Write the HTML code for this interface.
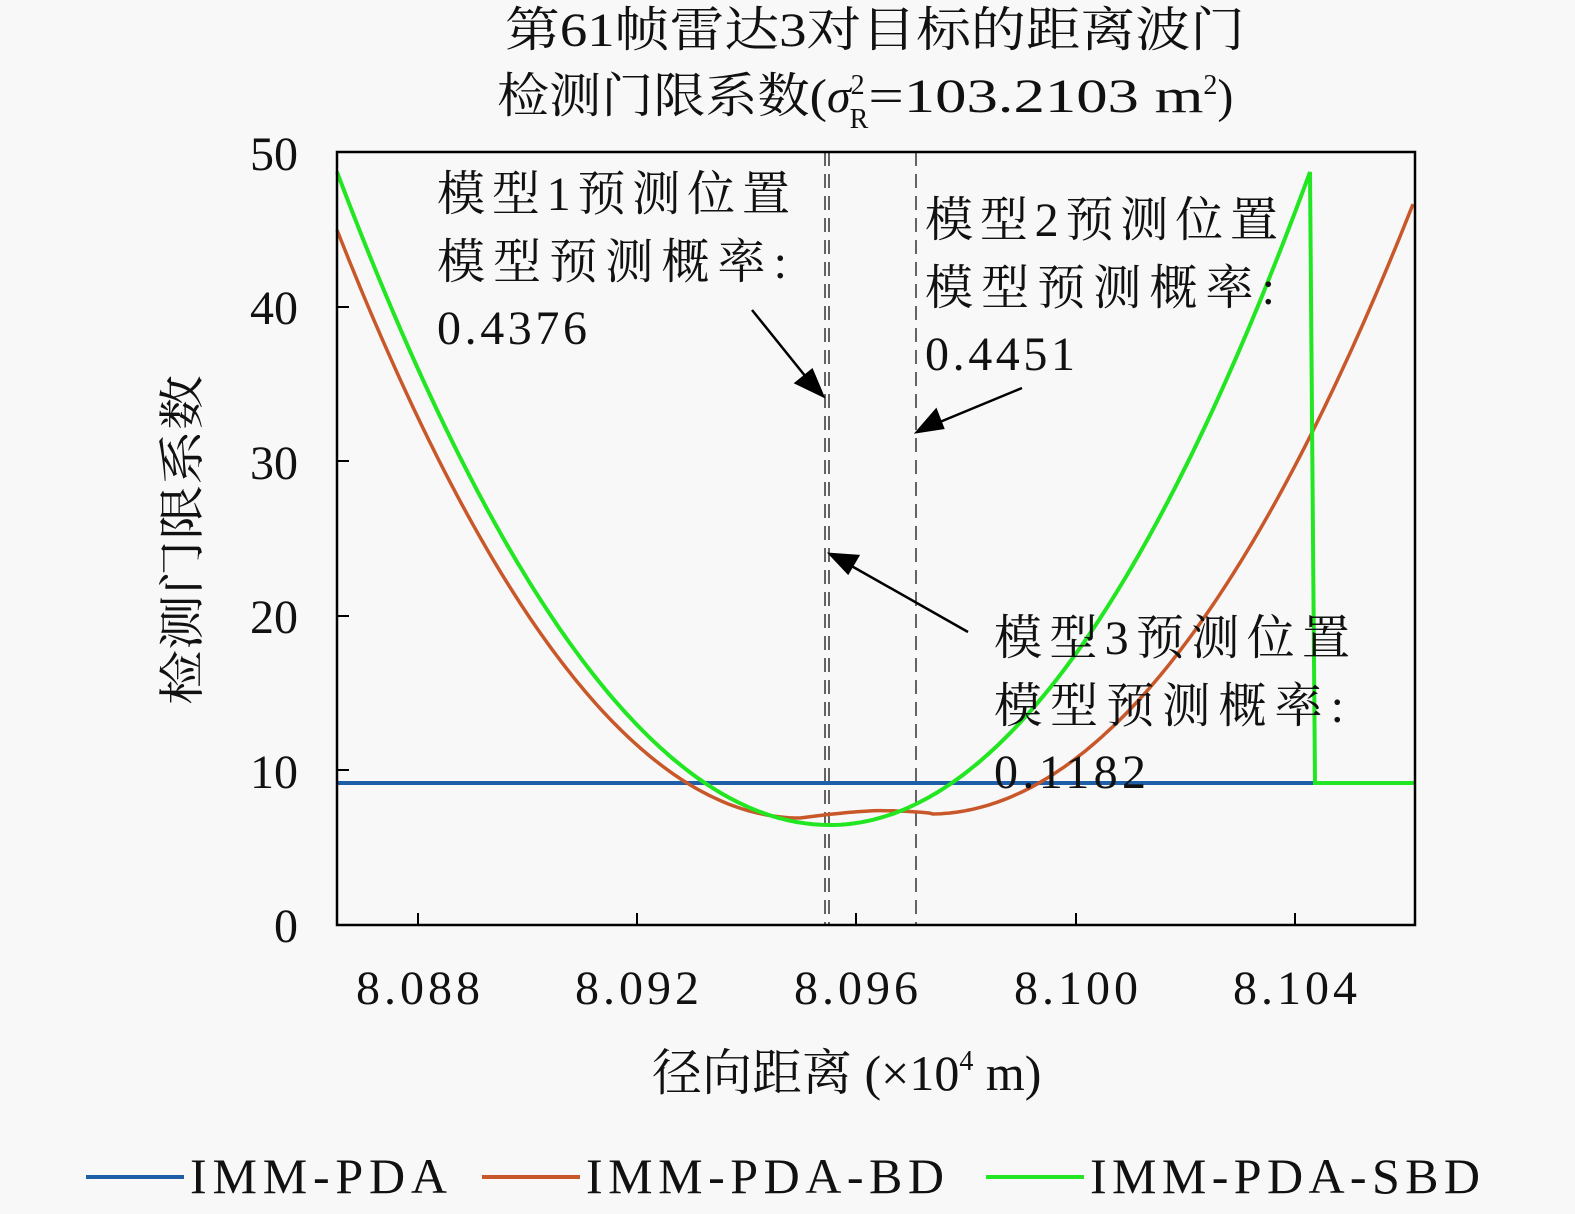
<!DOCTYPE html>
<html><head><meta charset="utf-8"><style>
body{margin:0;background:#f8f8f8;}
svg{display:block;}
text{font-family:"Liberation Serif","Noto Serif CJK SC","Noto Sans CJK SC",serif;fill:#111;}
</style></head><body>
<svg id="s" width="1575" height="1214" viewBox="0 0 1575 1214" xmlns="http://www.w3.org/2000/svg">
<rect width="1575" height="1214" fill="#f8f8f8"/>
<text x="505" y="46" font-size="48" textLength="740" lengthAdjust="spacingAndGlyphs">第61帧雷达3对目标的距离波门</text>
<text x="497" y="112" font-size="48">
<tspan textLength="330" lengthAdjust="spacingAndGlyphs">检测门限系数(</tspan><tspan font-style="italic">σ</tspan><tspan font-size="28" dy="-18">2</tspan><tspan font-size="28" dx="-15" dy="34">R</tspan><tspan dy="-16" textLength="335" lengthAdjust="spacingAndGlyphs">=103.2103 m</tspan><tspan font-size="28" dy="-18">2</tspan><tspan dy="18">)</tspan></text>
<g stroke="#333" stroke-width="1.5" stroke-dasharray="14,8" fill="none">
<line x1="825" y1="152" x2="825" y2="925"/><line x1="829" y1="152" x2="829" y2="925"/><line x1="916" y1="152" x2="916" y2="925"/>
</g>
<line x1="337" y1="783" x2="1315" y2="783" stroke="#1f5fa8" stroke-width="4"/>
<path id="org" fill="none" stroke="#c8582a" stroke-width="3.5"/>
<path id="grn" fill="none" stroke="#22e622" stroke-width="4"/>
<rect x="337" y="152" width="1078" height="773" fill="none" stroke="#000" stroke-width="2.5"/>
<g stroke="#000" stroke-width="2">
<line x1="418" y1="925" x2="418" y2="913"/><line x1="637" y1="925" x2="637" y2="913"/><line x1="856" y1="925" x2="856" y2="913"/><line x1="1076" y1="925" x2="1076" y2="913"/><line x1="1295" y1="925" x2="1295" y2="913"/>
<line x1="337" y1="152" x2="349" y2="152"/><line x1="337" y1="307" x2="349" y2="307"/><line x1="337" y1="461" x2="349" y2="461"/><line x1="337" y1="616" x2="349" y2="616"/><line x1="337" y1="770" x2="349" y2="770"/>
</g>
<g font-size="48" text-anchor="end">
<text x="298" y="170">50</text><text x="298" y="324">40</text><text x="298" y="479">30</text><text x="298" y="633">20</text><text x="298" y="788">10</text><text x="298" y="942">0</text>
</g>
<g font-size="48" lengthAdjust="spacingAndGlyphs">
<text x="356" y="1004" textLength="124">8.088</text><text x="575" y="1004" textLength="124">8.092</text><text x="794" y="1004" textLength="124">8.096</text><text x="1014" y="1004" textLength="124">8.100</text><text x="1233" y="1004" textLength="124">8.104</text>
</g>
<text x="652" y="1090" font-size="50">径向距离 (×10<tspan font-size="28" dy="-20">4</tspan><tspan dy="20"> m)</tspan></text>
<text transform="translate(198,540) rotate(-90)" font-size="46" text-anchor="middle" textLength="330" lengthAdjust="spacingAndGlyphs">检测门限系数</text>
<g font-size="48" lengthAdjust="spacingAndGlyphs">
<text x="437" y="210" textLength="353">模型1预测位置</text><text x="437" y="278" textLength="350">模型预测概率:</text><text x="437" y="344" textLength="150">0.4376</text>
<text x="925" y="236" textLength="353">模型2预测位置</text><text x="925" y="304" textLength="350">模型预测概率:</text><text x="925" y="370" textLength="150">0.4451</text>
<text x="994" y="654" textLength="356">模型3预测位置</text><text x="994" y="722" textLength="350">模型预测概率:</text><text x="994" y="788" textLength="152">0.1182</text>
</g>
<g stroke="#000" stroke-width="2.5" fill="#000">
<line x1="752" y1="310" x2="810" y2="382"/><polygon points="823,396 796,383 812,370"/>
<line x1="1022" y1="388" x2="935" y2="424"/><polygon points="917,432 936,410 943,428"/>
<line x1="968" y1="632" x2="848" y2="564"/><polygon points="830,554 858,556 848,573"/>
</g>
<line x1="86" y1="1177" x2="184" y2="1177" stroke="#1f5fa8" stroke-width="4"/>
<line x1="482" y1="1177" x2="580" y2="1177" stroke="#c8582a" stroke-width="4"/>
<line x1="986" y1="1177" x2="1084" y2="1177" stroke="#22e622" stroke-width="4"/>
<g font-size="50" lengthAdjust="spacingAndGlyphs"><text x="190" y="1193" textLength="257">IMM-PDA</text><text x="586" y="1193" textLength="358">IMM-PDA-BD</text><text x="1090" y="1193" textLength="390">IMM-PDA-SBD</text></g>
</svg>
<script>
var g=[],o=[];
for(var x=337;x<=1310;x+=4){var y=x<830?825-0.002687*(x-830)*(x-830):825-0.002834*(x-830)*(x-830);g.push(x+","+y.toFixed(1));}
g.push("1310,172","1315,783","1415,783");
for(var x=337;x<=1415;x+=4){var y;
if(x<800)y=818-0.002743*(x-800)*(x-800);
else if(x<930){var t=(x-800)/130;y=818-5*Math.sin(t*Math.PI*0.8)-4*t+(t>0.6?(t-0.6)*5:0);}
else y=814-0.002614*(x-930)*(x-930);
o.push(x+","+y.toFixed(1));}
document.getElementById("grn").setAttribute("d","M"+g.join(" L"));
document.getElementById("org").setAttribute("d","M"+o.join(" L"));
</script>
</body></html>
